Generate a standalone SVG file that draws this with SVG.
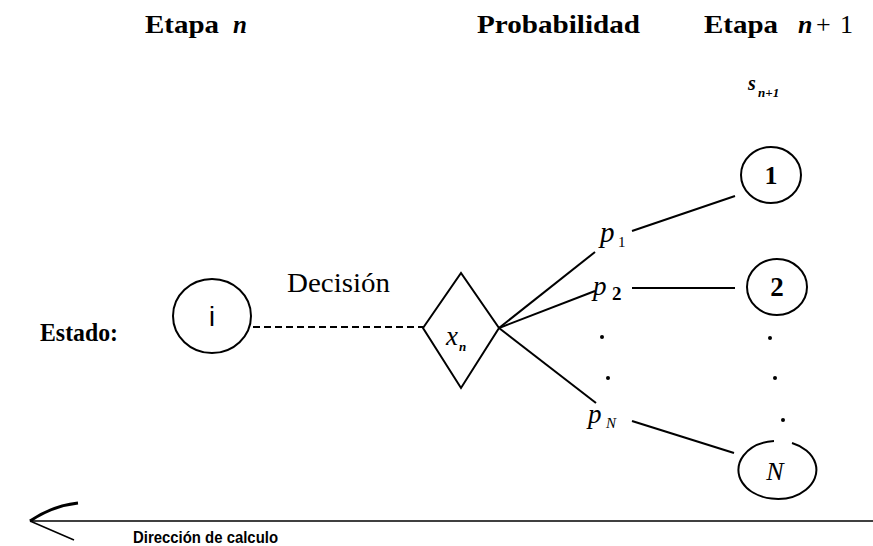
<svg xmlns="http://www.w3.org/2000/svg" width="873" height="546" viewBox="0 0 873 546">
<style>
.bg{fill:#fff}
.title{font-family:"Liberation Serif",serif;font-weight:bold;font-size:25px;fill:#000}
.it{font-family:"Liberation Serif",serif;font-style:italic;fill:#000}
.ser{font-family:"Liberation Serif",serif;fill:#000}
.sans{font-family:"Liberation Sans",sans-serif;fill:#000}
.node{fill:none;stroke:#000;stroke-width:2}
.edge{fill:none;stroke:#000;stroke-width:2}
.dash{fill:none;stroke:#000;stroke-width:2;stroke-dasharray:7 4}
.dot{fill:#000}
</style>
<rect class="bg" x="0" y="0" width="873" height="546"/>
<g id="headers">
<text class="title" x="145" y="33" textLength="74" lengthAdjust="spacingAndGlyphs">Etapa</text>
<text class="it" x="233" y="33" font-size="25" font-weight="bold">n</text>
<text class="title" x="477" y="33" textLength="163" lengthAdjust="spacingAndGlyphs">Probabilidad</text>
<text class="title" x="704" y="33" textLength="74" lengthAdjust="spacingAndGlyphs">Etapa</text>
<text class="it" x="798" y="33" font-size="26" font-weight="bold">n</text>
<text class="ser" x="816" y="33" font-size="26">+</text>
<text class="ser" x="840" y="33" font-size="26">1</text>
<text class="it" x="748" y="90" font-size="20" font-weight="bold">s</text>
<text class="it" x="758" y="97" font-size="13" font-weight="bold">n+1</text>
<text class="title" x="40" y="341" textLength="78" lengthAdjust="spacingAndGlyphs">Estado:</text>
</g>
<g id="connectors">
<line class="dash" x1="253" y1="327" x2="423" y2="327"/>
<line class="edge" x1="499" y1="328" x2="595" y2="252"/>
<line class="edge" x1="499" y1="328" x2="595" y2="291"/>
<line class="edge" x1="499" y1="328" x2="596" y2="403"/>
<line class="edge" x1="632" y1="231" x2="735" y2="196"/>
<line class="edge" x1="632" y1="288" x2="735" y2="288"/>
<line class="edge" x1="632" y1="421" x2="734" y2="453"/>
<line stroke="#000" stroke-width="1.5" x1="30" y1="521" x2="873" y2="521"/>
<path d="M30 521 Q52 506 78 503" fill="none" stroke="#000" stroke-width="3"/>
<line stroke="#000" stroke-width="1.5" x1="30" y1="521" x2="74" y2="540"/>
<text class="sans" x="133" y="543" font-size="16" font-weight="bold" textLength="145" lengthAdjust="spacingAndGlyphs">Dirección de calculo</text>
</g>
<g id="node-i">
<ellipse class="node" cx="212" cy="316" rx="39" ry="37"/>
<text class="sans" x="212" y="326" font-size="27" text-anchor="middle">i</text>
</g>
<g id="decision">
<text class="ser" x="287" y="292" font-size="27" textLength="103" lengthAdjust="spacingAndGlyphs">Decisión</text>
<polygon class="node" points="423,328 461,273 499,328 461,388"/>
<text class="it" x="446" y="345" font-size="27">x</text>
<text class="it" x="459" y="351" font-size="13" font-weight="bold">n</text>
</g>
<g id="probs">
<text class="it" x="600" y="242" font-size="29">p</text>
<text class="ser" x="618" y="247" font-size="15">1</text>
<text class="it" x="593" y="295" font-size="27">p</text>
<text class="ser" x="612" y="300" font-size="19" font-weight="bold">2</text>
<text class="it" x="588" y="423" font-size="27">p</text>
<text class="it" x="606" y="428" font-size="15">N</text>
<circle class="dot" cx="602" cy="337" r="2"/>
<circle class="dot" cx="608" cy="378" r="2"/>
</g>
<g id="node-1">
<ellipse class="node" cx="771" cy="175" rx="30" ry="28"/>
<text class="ser" x="771" y="184" font-size="26" font-weight="bold" text-anchor="middle">1</text>
</g>
<g id="node-2">
<ellipse class="node" cx="777" cy="287" rx="30" ry="28"/>
<text class="ser" x="777" y="296" font-size="27" font-weight="bold" text-anchor="middle">2</text>
</g>
<g id="dots-right">
<circle class="dot" cx="770" cy="338" r="2"/>
<circle class="dot" cx="775" cy="378" r="2"/>
<circle class="dot" cx="783" cy="420" r="2"/>
</g>
<g id="node-N">
<path class="node" d="M774 441 A39 29 0 1 0 792 443"/>
<text class="it" x="775" y="480" font-size="26" text-anchor="middle">N</text>
</g>
</svg>
